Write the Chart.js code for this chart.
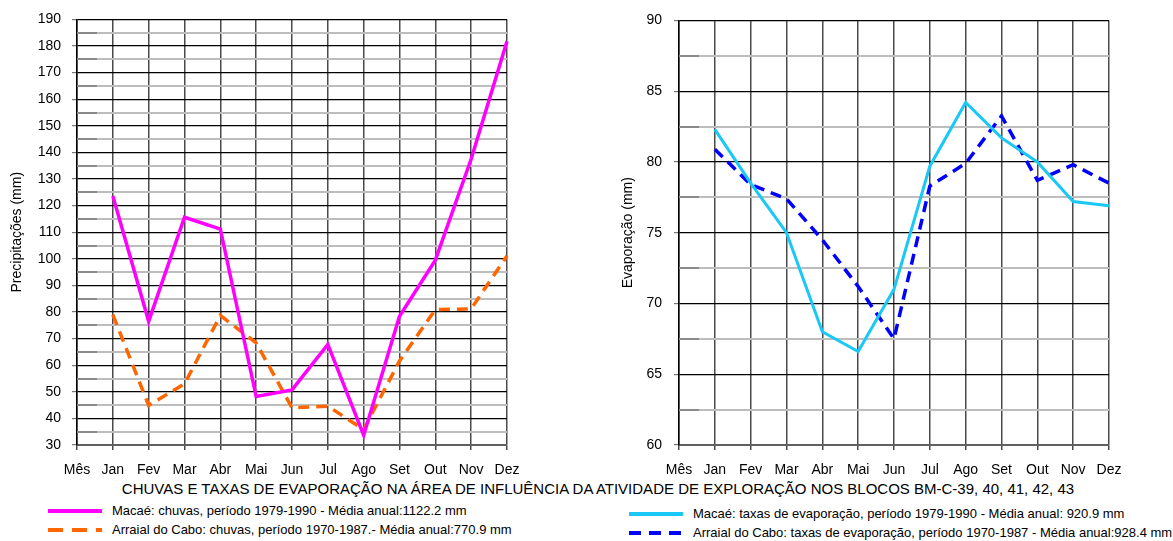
<!DOCTYPE html>
<html lang="pt">
<head>
<meta charset="utf-8">
<script src="https://cdn.jsdelivr.net/npm/chart.js@4.4.1/dist/chart.umd.min.js"></script>
<style>
  body { margin:0; background:#fff; width:1173px; height:541px; position:relative; overflow:hidden;
         font-family:'Liberation Sans', Arial, sans-serif; color:#000; }
  #chuvas { position:absolute; left:0; top:0; }
  #evap { position:absolute; left:590px; top:0; }
  #titulo { position:absolute; left:598px; top:480px; transform:translateX(-50%); white-space:nowrap;
            font-size:15px; line-height:18px; }
  .sw { position:absolute; width:56px; height:20px; }
  .lt { position:absolute; font-size:13px; line-height:20px; white-space:nowrap; }
</style>
</head>
<body>
<canvas id="chuvas" width="540" height="480"></canvas>
<canvas id="evap" width="583" height="480"></canvas>
<div id="titulo">CHUVAS E TAXAS DE EVAPORAÇÃO NA ÁREA DE INFLUÊNCIA DA ATIVIDADE DE EXPLORAÇÃO NOS BLOCOS BM-C-39, 40, 41, 42, 43</div>

<svg class="sw" style="left:47px;top:501px"><line x1="1" y1="10" x2="55" y2="10" stroke="#FF00FF" stroke-width="4"/></svg>
<div class="lt" style="left:112px;top:501px">Macaé: chuvas, período 1979-1990 - Média anual:1122.2 mm</div>
<svg class="sw" style="left:47px;top:520px"><line x1="1" y1="10" x2="55" y2="10" stroke="#FF6600" stroke-width="4" stroke-dasharray="15,9"/></svg>
<div class="lt" style="left:112px;top:520px">Arraial do Cabo: chuvas, período 1970-1987.- Média anual:770.9 mm</div>

<svg class="sw" style="left:628px;top:504px"><line x1="1" y1="10" x2="55" y2="10" stroke="#19C8F5" stroke-width="4"/></svg>
<div class="lt" style="left:693px;top:504px">Macaé: taxas de evaporação, período 1979-1990 - Média anual: 920.9 mm</div>
<svg class="sw" style="left:628px;top:523px"><line x1="1" y1="10" x2="55" y2="10" stroke="#0000FF" stroke-width="4" stroke-dasharray="12,8"/></svg>
<div class="lt" style="left:693px;top:523px">Arraial do Cabo: taxas de evaporação, período 1970-1987 - Média anual:928.4 mm</div>

<script>
// Monthly categories; the first slot ("Mês") is the axis caption column and has no value
const meses = ['Mês','Jan','Fev','Mar','Abr','Mai','Jun','Jul','Ago','Set','Out','Nov','Dez'];

// Precipitation (mm)
const chuvaMacae   = [null, 123.6, 76.5, 115.6, 111.2, 48.2, 50.7, 67.8, 33.7, 78.4, 99.5, 137.5, 181.8];
const chuvaArraial = [null, 79.0, 44.9, 53.0, 78.7, 68.4, 44.0, 44.6, 35.8, 61.6, 80.9, 81.2, 101.1];

// Evaporation (mm)
const evapMacae    = [null, 82.3, 78.5, 75.0, 68.0, 66.6, 71.0, 79.7, 84.2, 81.7, 80.0, 77.2, 76.9];
const evapArraial  = [null, 80.9, 78.4, 77.4, 74.5, 71.2, 67.5, 78.3, 79.9, 83.25, 78.7, 79.8, 78.5];

const FONTE = "'Liberation Sans', Arial, sans-serif";

// Short darker marks at the minor gridlines, just inside the left edge of the plot
const marcasMenores = {
  id: 'marcasMenores',
  beforeDatasetsDraw(chart, args, opts) {
    const y = chart.scales.y, ctx = chart.ctx, a = chart.chartArea;
    ctx.save();
    ctx.strokeStyle = '#8a8a8a';
    ctx.lineWidth = 2;
    y.ticks.forEach(t => {
      if (t.value % opts.major !== 0) {
        const py = Math.round(y.getPixelForValue(t.value));
        ctx.beginPath();
        ctx.moveTo(a.left, py);
        ctx.lineTo(a.left + 20, py);
        ctx.stroke();
      }
    });
    ctx.restore();
  }
};

function serie(rotulo, dados, cor, tracejado, largura) {
  return {
    label: rotulo, data: dados, borderColor: cor, backgroundColor: cor,
    borderWidth: largura, borderDash: tracejado || [], pointRadius: 0, tension: 0,
    fill: false, borderJoinStyle: 'miter', borderCapStyle: 'butt'
  };
}

function grafico(id, datasets, eixo) {
  const isMaior = c => c.tick && (Math.abs(c.tick.value % eixo.maior) < 1e-9);
  return new Chart(document.getElementById(id), {
    type: 'line',
    data: { labels: meses, datasets },
    plugins: [marcasMenores],
    options: {
      responsive: false,
      animation: false,
      layout: { padding: { left: 0, top: 15, right: eixo.dir, bottom: 0 } },
      plugins: { legend: { display: false }, tooltip: { enabled: false }, marcasMenores: { major: eixo.maior } },
      scales: {
        x: {
          grid: { color: '#4a4a4a', lineWidth: 1.5, tickLength: 5, tickColor: '#4a4a4a' },
          border: { color: '#606060', width: 2 },
          ticks: { font: { family: FONTE, size: 14 }, color: '#000', padding: 12, maxRotation: 0, autoSkip: false },
          afterFit: s => { s.height = 35; }
        },
        y: {
          min: eixo.min, max: eixo.max,
          border: { color: '#000', width: 1.5 },
          grid: {
            color: c => isMaior(c) ? '#000' : '#bdbdbd',
            lineWidth: c => isMaior(c) ? 1.2 : 2,
            tickLength: 5,
            tickColor: c => isMaior(c) ? '#777' : 'rgba(0,0,0,0)'
          },
          ticks: {
            stepSize: eixo.passo, autoSkip: false, padding: eixo.pad, color: '#000',
            font: { family: FONTE, size: 14 },
            callback: v => (Math.abs(v % eixo.maior) < 1e-9) ? v : ''
          },
          title: {
            display: true, text: eixo.titulo, color: '#000',
            font: { family: FONTE, size: 14 }, padding: { top: eixo.tpad, bottom: 0 }
          },
          afterFit: s => { s.width = eixo.largura; }
        }
      }
    }
  });
}

grafico('chuvas', [
  serie('Macaé: chuvas, período 1979-1990 - Média anual:1122.2 mm', chuvaMacae, '#FF00FF', null, 3.5),
  serie('Arraial do Cabo: chuvas, período 1970-1987.- Média anual:770.9 mm', chuvaArraial, '#FF6600', [11, 7], 3.5)
], { min: 30, max: 190, passo: 5, maior: 10, titulo: 'Precipitações (mm)', largura: 77, pad: 11, tpad: 9, dir: 33 });

grafico('evap', [
  serie('Macaé: taxas de evaporação, período 1979-1990 - Média anual: 920.9 mm', evapMacae, '#19C8F5', null, 3),
  serie('Arraial do Cabo: taxas de evaporação, período 1970-1987 - Média anual:928.4 mm', evapArraial, '#0000FF', [11, 7], 3.5)
], { min: 60, max: 90, passo: 2.5, maior: 5, titulo: 'Evaporação (mm)', largura: 89, pad: 12, tpad: 30, dir: 64 });
</script>
</body>
</html>
